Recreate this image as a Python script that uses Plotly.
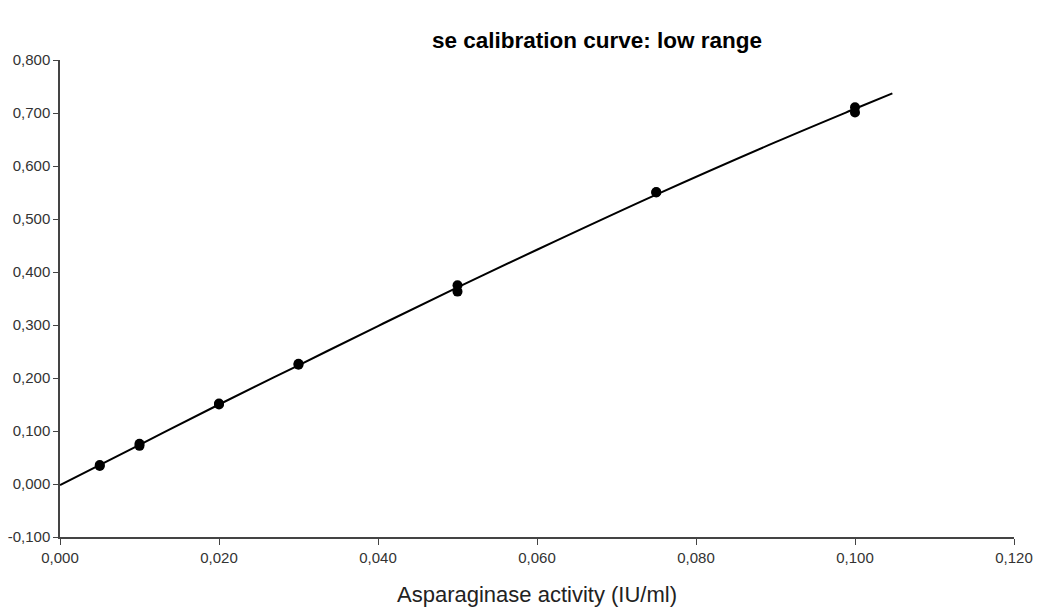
import plotly.graph_objects as go

activity = [0.005, 0.005, 0.010, 0.010, 0.020, 0.020, 0.030, 0.030,
            0.050, 0.050, 0.075, 0.075, 0.100, 0.100]
absorbance = [0.034, 0.036, 0.072, 0.076, 0.150, 0.152, 0.225, 0.227,
              0.375, 0.363, 0.550, 0.551, 0.711, 0.701]

# Fitted calibration curve, read at several x positions
fit_x = [0.0, 0.010, 0.020, 0.030, 0.040, 0.050, 0.060, 0.075, 0.090, 0.100, 0.1047]
fit_y = [-0.002, 0.074, 0.150, 0.224, 0.298, 0.371, 0.442, 0.546, 0.645, 0.708, 0.737]

x_ticks = [0.0, 0.02, 0.04, 0.06, 0.08, 0.10, 0.12]
x_tick_labels = ["0,000", "0,020", "0,040", "0,060", "0,080", "0,100", "0,120"]
y_ticks = [-0.1, 0.0, 0.1, 0.2, 0.3, 0.4, 0.5, 0.6, 0.7, 0.8]
y_tick_labels = ["-0,100", "0,000", "0,100", "0,200", "0,300", "0,400",
                 "0,500", "0,600", "0,700", "0,800"]

fig = go.Figure()
fig.add_trace(go.Scatter(x=fit_x, y=fit_y, mode="lines",
                         line=dict(color="black", width=2, shape="spline"),
                         showlegend=False))
fig.add_trace(go.Scatter(x=activity, y=absorbance, mode="markers",
                         marker=dict(color="black", size=10), showlegend=False))

fig.update_layout(
    width=1038, height=607,
    paper_bgcolor="white", plot_bgcolor="white",
    margin=dict(l=60, r=24, t=60, b=70),
    font=dict(family="Liberation Sans, Arial, sans-serif", color="#333333"),
    title=dict(text="<b>se calibration curve: low range</b>",
               x=597 / 1038, xanchor="center", y=1 - 40 / 607, yanchor="middle",
               font=dict(size=22.5, color="black")),
    xaxis=dict(range=[0, 0.12], tickvals=x_ticks, ticktext=x_tick_labels,
               automargin=False,
               showgrid=False, zeroline=False, showline=True, linecolor="#444444",
               linewidth=1.5, ticks="outside", ticklen=6, tickcolor="#444444",
               tickfont=dict(size=15, color="#333333"),
               title=dict(text="Asparaginase activity (IU/ml)",
                          font=dict(size=22, color="#222222"), standoff=22)),
    yaxis=dict(range=[-0.1, 0.8], tickvals=y_ticks, ticktext=y_tick_labels,
               automargin=False,
               showgrid=False, zeroline=False, showline=True, linecolor="#444444",
               linewidth=1.5, ticks="outside", ticklen=5, tickcolor="#444444",
               tickfont=dict(size=15, color="#333333")),
)

fig.write_html("out.html",
               config={"displayModeBar": False},
               post_script="document.body.style.margin='0';document.body.style.overflow='hidden';")
